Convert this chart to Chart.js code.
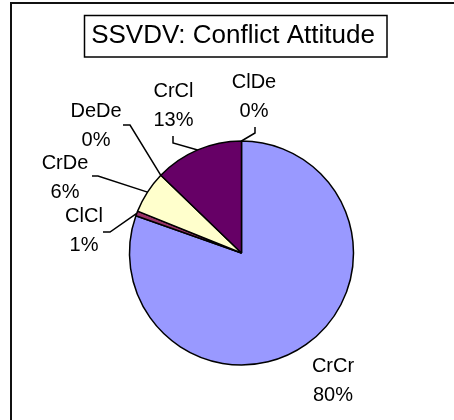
<!DOCTYPE html>
<html>
<head>
<meta charset="utf-8">
<script src="https://cdn.jsdelivr.net/npm/chart.js@4"></script>
<style>
  html, body { margin: 0; padding: 0; background: #fff; }
  #wrap { width: 454px; height: 420px; position: relative; }
</style>
</head>
<body>
<div id="wrap"><canvas id="c" width="454" height="420"></canvas></div>
<script>
const title = "SSVDV: Conflict Attitude";
const categories = ["CrCr", "ClCl", "CrDe", "DeDe", "CrCl", "ClDe"];
const values = [80.4, 0.7, 6.1, 0.0, 12.8, 0.0];
const colors = ["#9999FF", "#993366", "#FFFFCC", "#CCFFFF", "#660066", "#FF8080"];

// label layout: text centre and leader-line elbow points (null = no leader)
const labelPos = {
  CrCr: { x: 333, y: 365, leader: null },
  ClCl: { x: 84, y: 215, leader: [[103, 232], [110, 232]] },
  CrDe: { x: 65, y: 162, leader: [[92, 176], [98, 176]] },
  DeDe: { x: 96, y: 110, leader: [[123, 125], [130, 125]] },
  CrCl: { x: 173.5, y: 90, leader: [[173, 136], [173, 143]] },
  ClDe: { x: 254, y: 81, leader: [[255, 127], [255, 133]] }
};

const FONT = "'Liberation Sans', Arial, sans-serif";

const decor = {
  id: 'decor',
  afterDraw(chart) {
    const ctx = chart.ctx;
    ctx.save();
    // outer frame (left and top edges visible)
    ctx.strokeStyle = '#111';
    ctx.lineWidth = 2;
    ctx.beginPath();
    ctx.moveTo(11, 420);
    ctx.lineTo(11, 3);
    ctx.lineTo(454, 3);
    ctx.stroke();

    // title box
    ctx.lineWidth = 1.5;
    ctx.strokeStyle = '#000';
    ctx.strokeRect(84.5, 15.5, 302.5, 41.5);
    ctx.fillStyle = '#000';
    ctx.font = "26px " + FONT;
    ctx.textAlign = 'center';
    ctx.textBaseline = 'alphabetic';
    ctx.fillText(title, 233, 43);

    // labels & leaders
    const meta = chart.getDatasetMeta(0);
    const total = values.reduce((a, b) => a + b, 0);
    ctx.font = "20px " + FONT;
    meta.data.forEach((arc, i) => {
      const name = categories[i];
      const lp = labelPos[name];
      const pct = Math.round(values[i] / total * 100) + '%';
      ctx.fillStyle = '#000';
      ctx.fillText(name, lp.x, lp.y + 7.2);
      ctx.fillText(pct, lp.x, lp.y + 29 + 7.2);
      if (lp.leader) {
        const mid = (arc.startAngle + arc.endAngle) / 2;
        const ax = arc.x + Math.cos(mid) * arc.outerRadius;
        const ay = arc.y + Math.sin(mid) * arc.outerRadius;
        ctx.lineWidth = 1.5;
        ctx.strokeStyle = '#000';
        ctx.beginPath();
        ctx.moveTo(lp.leader[0][0], lp.leader[0][1]);
        ctx.lineTo(lp.leader[1][0], lp.leader[1][1]);
        ctx.lineTo(ax, ay);
        ctx.stroke();
      }
    });
    ctx.restore();
  }
};

new Chart(document.getElementById('c'), {
  type: 'pie',
  data: {
    labels: categories,
    datasets: [{
      data: values,
      backgroundColor: colors,
      borderColor: '#000',
      borderWidth: 1.5
    }]
  },
  options: {
    responsive: false,
    animation: false,
    devicePixelRatio: 1,
    radius: 112,
    layout: { padding: { left: 29, right: 0, top: 86, bottom: 0 } },
    plugins: {
      legend: { display: false },
      tooltip: { enabled: false },
      title: { display: false }
    }
  },
  plugins: [decor]
});
</script>
</body>
</html>
